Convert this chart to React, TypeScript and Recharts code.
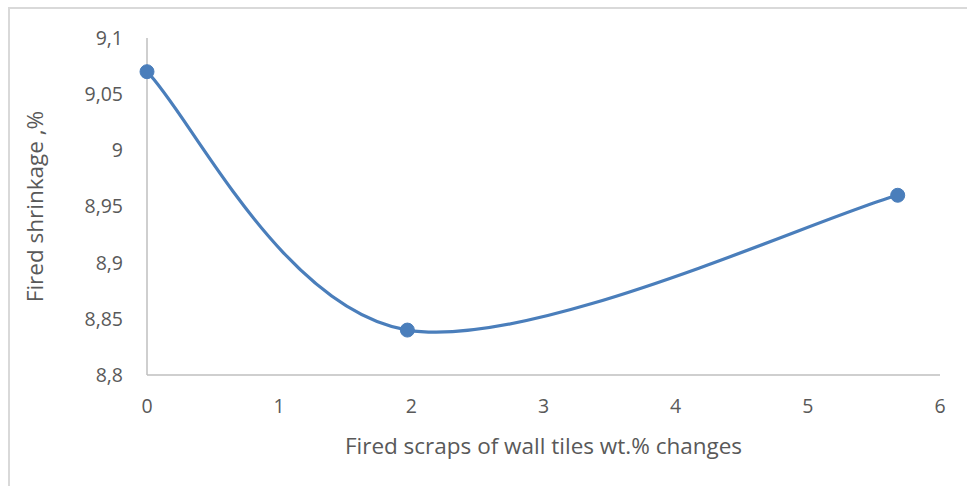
import { ComposedChart, Line, XAxis, YAxis, Label } from 'recharts';

const scrapPct = [0, 1.97, 5.68];
const shrinkage = [9.07, 8.84, 8.96];
const xTicks = [0, 1, 2, 3, 4, 5, 6];
const yTicks = [8.8, 8.85, 8.9, 8.95, 9, 9.05, 9.1];

const data = scrapPct.map((x, i) => ({ x, y: shrinkage[i] }));

// Excel-style smoothed line (Catmull-Rom through the points, ends duplicated)
function excelSmooth(context: any) {
    let pts: [number, number][] = [];
    return {
        areaStart() {},
        areaEnd() {},
        lineStart() { pts = []; },
        lineEnd() {
            const n = pts.length;
            if (!n) return;
            context.moveTo(pts[0][0], pts[0][1]);
            for (let i = 0; i < n - 1; i++) {
                const p0 = pts[Math.max(i - 1, 0)];
                const p1 = pts[i];
                const p2 = pts[i + 1];
                const p3 = pts[Math.min(i + 2, n - 1)];
                context.bezierCurveTo(
                    p1[0] + (p2[0] - p0[0]) / 6, p1[1] + (p2[1] - p0[1]) / 6,
                    p2[0] - (p3[0] - p1[0]) / 6, p2[1] - (p3[1] - p1[1]) / 6,
                    p2[0], p2[1]
                );
            }
        },
        point(x: number, y: number) { pts.push([+x, +y]); },
    };
}

const fmt = (v: number) => String(v).replace('.', ',');
const font = 'Open Sans, sans-serif';
const textColor = '#595959';

export default function App() {
    return (
        <div style={{ position: 'absolute', left: 0, top: 0, width: 967, height: 486, background: '#fff' }}>
            <div style={{ position: 'absolute', left: 8, top: 7, right: 0, bottom: 0, borderLeft: '2px solid #d9d9d9', borderTop: '2px solid #d9d9d9' }} />
            <ComposedChart width={967} height={486} data={data} margin={{ top: 38, right: 27, bottom: 0, left: 0 }} style={{ position: 'absolute', left: 0, top: 0 }}>
                <XAxis
                    dataKey="x"
                    type="number"
                    domain={[0, 6]}
                    ticks={xTicks}
                    tickLine={false}
                    axisLine={{ stroke: '#bfbfbf', strokeWidth: 1.5 }}
                    tick={{ fill: textColor, fontSize: 19.5, fontFamily: font }}
                    tickMargin={18}
                    height={111}
                >
                    <Label value="Fired scraps of wall tiles wt.% changes" position="insideTop" offset={63} style={{ fill: textColor, fontSize: 22.5, fontFamily: font }} />
                </XAxis>
                <YAxis
                    type="number"
                    domain={[8.8, 9.1]}
                    ticks={yTicks}
                    tickFormatter={fmt}
                    tickLine={false}
                    axisLine={{ stroke: '#bfbfbf', strokeWidth: 1.5 }}
                    tick={{ fill: textColor, fontSize: 19.5, fontFamily: font }}
                    tickMargin={18}
                    width={147}
                >
                    <Label value="Fired shrinkage ,%" angle={-90} position="insideLeft" offset={35} style={{ textAnchor: 'middle', fill: textColor, fontSize: 22.5, fontFamily: font }} />
                </YAxis>
                <Line
                    dataKey="y"
                    type={excelSmooth as any}
                    stroke="#4a7ebb"
                    strokeWidth={3.2}
                    dot={{ r: 7, fill: '#4a7ebb', stroke: '#4a7ebb', strokeWidth: 1 }}
                    activeDot={false}
                    isAnimationActive={false}
                />
            </ComposedChart>
        </div>
    );
}
